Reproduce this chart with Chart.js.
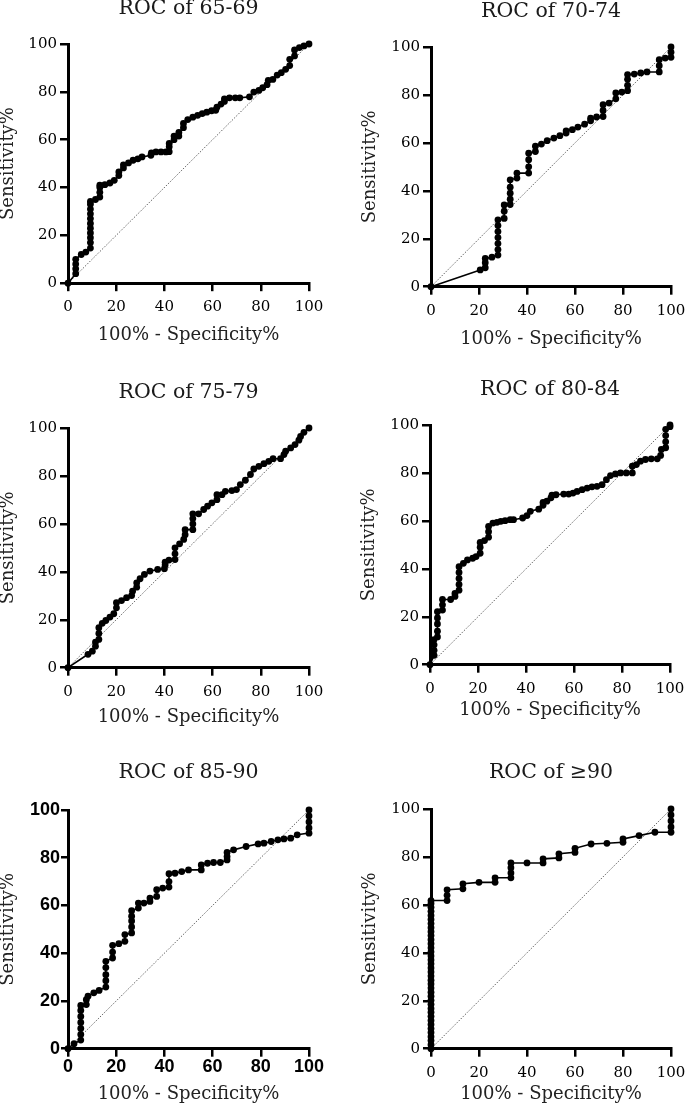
<!DOCTYPE html>
<html lang="en">
<head>
<meta charset="UTF-8">
<title>ROC curves by age group</title>
<script src="https://cdn.jsdelivr.net/npm/chart.js"></script>
<style>
  body { margin: 0; background: #fff; }
  #page { position: relative; width: 685px; height: 1110px; overflow: hidden; background: #fff; }
  #page canvas { position: absolute; }
</style>
</head>
<body>
<div id="page"></div>
<script>
// tick values shared by both axes of every panel
const axisTicks = [0, 20, 40, 60, 80, 100];

// chance line
const diagFpr = [0, 100];
const diagTpr = [0, 100];

// 65-69
const fpr6569 = [0, 3.2, 3.2, 3.2, 3.2, 5.5, 7.4, 9.3, 9.3, 9.3, 9.3, 9.3, 9.3, 9.3, 9.3, 9.3, 9.3, 9.3, 11.4, 13.2, 13.2, 13.2, 13.2, 15.3, 17.4, 19.2, 21.1, 21.1, 23, 23, 25.1, 27, 29, 30.7, 34.4, 34.6, 36.5, 38.6, 40.6, 42, 42, 42, 44, 44, 46, 46, 47.9, 47.9, 49.7, 51.8, 53.8, 55.7, 57.6, 59.6, 61.3, 61.8, 63.5, 64.9, 64.9, 67, 69.4, 71.3, 75.3, 77.1, 79.2, 80.8, 82.6, 83.1, 85, 86.8, 88.5, 90.3, 92, 92, 94, 94, 96, 97.9, 100];
const tpr6569 = [0, 4, 6, 8, 10, 12, 13, 14.7, 17, 19, 21, 23, 25, 27, 29, 31, 33, 34.2, 35, 36, 38, 40, 41, 41.2, 41.9, 43, 45, 46.5, 48.2, 49.5, 50.3, 51.4, 52, 52.8, 53.5, 54.5, 54.9, 54.9, 54.9, 55, 57, 58.4, 60, 61.5, 61.5, 63, 65, 66.8, 68.4, 69.4, 70.2, 70.9, 71.5, 72.1, 72.3, 73.6, 74.9, 76, 77.1, 77.5, 77.5, 77.5, 77.9, 79.9, 80.6, 81.7, 83, 84.8, 85.2, 87, 88, 89.4, 91, 93.6, 95, 97.5, 98.5, 99.2, 100];

// 70-74
const fpr7074 = [0, 20.5, 22.6, 22.6, 22.6, 25.4, 27.9, 27.9, 27.9, 27.9, 27.9, 27.9, 27.9, 30.5, 30.5, 30.5, 33, 33, 33, 33, 33, 35.8, 35.8, 40.7, 40.7, 40.7, 40.7, 43.5, 43.5, 46, 48.4, 51.2, 53.7, 56.3, 56.3, 58.9, 61.2, 64, 66.5, 66.5, 69, 71.7, 71.7, 71.7, 74.2, 77, 77, 79.5, 81.9, 81.9, 81.9, 81.9, 84.7, 87.4, 90, 95.1, 95.1, 95.1, 97.6, 100, 100, 100];
const tpr7074 = [0, 7, 7.9, 10, 11.8, 12.3, 13.2, 15.5, 18, 20.5, 23, 25.5, 27.9, 28.5, 31.5, 34.1, 34.3, 36.5, 39, 41.5, 44.6, 45.3, 47.4, 47.4, 50, 53, 55.7, 56.4, 58.6, 59.5, 60.9, 62, 63, 64.1, 65, 65.5, 66.6, 67.8, 69.2, 70.3, 70.8, 71, 73.5, 75.9, 76.6, 78.4, 80.8, 81.2, 81.8, 84, 86.5, 88.5, 88.7, 89.2, 89.6, 89.6, 92.2, 94.7, 95.4, 95.7, 97.8, 100];

// 75-79
const fpr7579 = [0, 8.3, 10.1, 11.4, 11.4, 12.8, 12.8, 12.8, 14.2, 15.7, 17.4, 19, 20.1, 20.1, 22.2, 24.3, 26.4, 26.8, 28.5, 28.5, 29.9, 31.7, 34, 37.2, 40, 40.3, 40.3, 41.9, 44.4, 44.4, 44.4, 46.3, 48, 48.6, 48.6, 51.8, 51.8, 51.8, 51.8, 54.2, 56.3, 57.9, 59.7, 61.8, 61.8, 63.9, 65.3, 68, 69.9, 71.5, 73.6, 75.7, 77.1, 79.2, 81.3, 83.3, 85.1, 88.2, 89.6, 90.3, 92.4, 94.2, 95.8, 96.5, 97.9, 100];
const tpr7579 = [0, 5.6, 6.9, 9, 10.7, 11.8, 14.3, 16.7, 18.5, 19.7, 21.1, 22.5, 25, 27.1, 28, 29.2, 30.1, 31.9, 33.6, 35.4, 37.1, 38.9, 40.3, 41, 41.3, 42.8, 44, 44.9, 45.1, 47.5, 50, 51.7, 53.5, 55.5, 57.6, 57.6, 60, 62.2, 64.2, 64.2, 66, 67.4, 68.8, 70.1, 72.2, 72.2, 73.6, 73.9, 74.3, 76.4, 78.2, 80.6, 82.9, 84, 85.1, 86.1, 87.2, 87.2, 88.9, 90.3, 91.7, 93.1, 94.9, 96.5, 98.2, 100];

// 80-84
const fpr8084 = [0, 1.7, 1.7, 1.7, 1.7, 3.1, 3.1, 3.1, 3.1, 3.1, 5.2, 5.2, 5.2, 8.6, 10.4, 10.4, 12.1, 12.1, 12.1, 12.1, 12.1, 13.9, 15.6, 17.8, 19.2, 20.9, 20.9, 20.9, 22.7, 24.4, 24.4, 24.4, 26.2, 27.9, 29.5, 31.3, 33.4, 34.8, 38.6, 40.4, 41.8, 45.3, 47.1, 47.1, 48.7, 50.4, 50.8, 52.5, 55.7, 57.8, 59.6, 61.3, 63.4, 65.5, 67.5, 69.6, 71.7, 73.5, 75.2, 77.3, 79.4, 81.8, 84.3, 84.3, 86, 87.7, 89.8, 92.2, 94.7, 96.1, 96.4, 98.2, 98.2, 98.2, 98.2, 100, 100];
const tpr8084 = [0, 3.9, 6, 8.3, 10.5, 11.6, 14, 17, 19.5, 22.1, 22.8, 25, 27.2, 27.2, 28.5, 29.7, 31.1, 33.5, 36, 38.5, 40.9, 42.3, 43.7, 44.4, 45.1, 46.5, 49, 51, 51.8, 53.2, 55.5, 57.7, 59.1, 59.4, 59.8, 60.1, 60.5, 60.5, 61.2, 62.2, 64, 64.9, 66.5, 67.7, 68.2, 69.6, 70.7, 70.9, 71.2, 71.2, 71.6, 72.3, 73, 73.7, 74.2, 74.4, 75.1, 77.2, 78.9, 79.6, 80, 80, 80, 82.8, 83.5, 84.9, 85.6, 85.9, 85.9, 87.3, 89.8, 90.5, 93, 95.6, 98.2, 99.3, 100];

// 85-90
const fpr8590 = [0, 2.5, 5.3, 5.3, 5.3, 5.3, 5.3, 5.3, 5.3, 7.6, 7.6, 8.3, 10.7, 12.9, 15.7, 15.7, 15.7, 15.7, 15.7, 18.5, 18.5, 18.5, 21.1, 23.6, 23.6, 26.4, 26.4, 26.4, 26.4, 26.4, 29.2, 29.2, 31.5, 34, 34, 36.8, 36.8, 39.3, 41.9, 41.9, 41.9, 44.4, 47.2, 50, 55.3, 55.3, 57.9, 60.4, 63.2, 66, 66, 66, 68.7, 73.9, 78.9, 81.3, 84.3, 87.1, 89.6, 92.4, 95.1, 100, 100, 100, 100, 100];
const tpr8590 = [0, 2.1, 3.6, 6, 8.5, 11, 13.5, 16, 18.1, 18.5, 20.5, 22, 23.4, 24.4, 25.8, 28.5, 31, 34, 36.6, 38, 40.5, 43.3, 44, 45, 47.8, 48.5, 51, 53.5, 55.5, 57.8, 58.9, 61, 61, 61.7, 63.1, 63.8, 66.6, 67.3, 67.7, 70, 73.3, 73.5, 74.2, 74.9, 74.9, 77, 77.7, 78, 78, 79.1, 80.5, 82.2, 83.3, 84.7, 85.8, 86.1, 86.8, 87.5, 87.9, 88.2, 89.6, 90.3, 92.5, 95, 97.5, 100];

// >=90
const fpr90 = [0, 0, 0, 0, 0, 0, 0, 0, 0, 0, 0, 0, 0, 0, 0, 0, 0, 0, 0, 0, 0, 0, 0, 0, 0, 0, 0, 0, 0, 0, 0, 0, 0, 0, 0, 0, 0, 0, 6.7, 6.7, 6.7, 13.3, 13.3, 20, 26.7, 26.7, 33.3, 33.3, 33.3, 33.3, 40, 46.7, 46.7, 53.3, 53.3, 60, 60, 66.7, 73.3, 80, 80, 86.7, 93.3, 100, 100, 100, 100, 100];
const tpr90 = [0, 1.7, 3.4, 5, 6.8, 8.4, 10.1, 11.8, 13.5, 15.2, 16.8, 18.5, 20.2, 21.9, 23.6, 25.3, 27, 28.6, 30.3, 32, 33.7, 35.4, 37, 38.7, 40.4, 42.1, 43.8, 45.5, 47.2, 48.8, 50.5, 52.2, 53.9, 55.6, 57.3, 59, 60.6, 61.8, 61.8, 64, 66.3, 66.7, 68.8, 69.4, 69.4, 71.3, 71.3, 73.3, 75.5, 77.5, 77.5, 77.5, 79.2, 79.6, 81.3, 81.9, 83.6, 85.4, 85.7, 86.1, 87.5, 88.9, 90.3, 90.3, 92.5, 95, 97.5, 100];

const SERIF = "'DejaVu Serif', 'Liberation Serif', serif";
const SANS = "'Liberation Sans', Arial, sans-serif";

// plot-area box [left, top, right, bottom] and where the titles sit, in page pixels
const panels = [
  { title: 'ROC of 65-69', fpr: fpr6569, tpr: tpr6569, area: [68, 44, 309, 284], titleY: 9, yTitleX: 8, xTitleY: 336, bold: false },
  { title: 'ROC of 70-74', fpr: fpr7074, tpr: tpr7074, area: [431, 47, 671, 287], titleY: 11.5, yTitleX: 370, xTitleY: 339.5, bold: false },
  { title: 'ROC of 75-79', fpr: fpr7579, tpr: tpr7579, area: [68, 428, 309, 668], titleY: 392.5, yTitleX: 8, xTitleY: 717.5, bold: false },
  { title: 'ROC of 80-84', fpr: fpr8084, tpr: tpr8084, area: [430, 425, 670, 665], titleY: 390, yTitleX: 369.5, xTitleY: 710.5, bold: false },
  { title: 'ROC of 85-90', fpr: fpr8590, tpr: tpr8590, area: [68, 810, 309, 1049], titleY: 773, yTitleX: 8, xTitleY: 1094.5, bold: true },
  { title: 'ROC of \u226590', fpr: fpr90, tpr: tpr90, area: [431, 809, 671, 1049], titleY: 773, yTitleX: 370, xTitleY: 1094.5, bold: false }
];

Chart.defaults.font.family = SERIF;
Chart.defaults.color = '#111';

const page = document.getElementById('page');
const AXIS_SIZE = 18;
const AXIS_LH = AXIS_SIZE * 1.2;

panels.forEach(p => {
  const [al, at, ar, ab] = p.area;
  const L = al - 70, T = at - 50;
  const xH = (p.xTitleY - ab) + AXIS_LH / 2;
  const W = 70 + (ar - al) + 30;
  const H = 50 + (ab - at) + xH + 4;
  const tTop = p.titleY - T - 12;

  const canvas = document.createElement('canvas');
  canvas.width = W;
  canvas.height = H;
  canvas.style.left = L + 'px';
  canvas.style.top = T + 'px';
  page.appendChild(canvas);

  const tickFont = p.bold
    ? { family: SANS, weight: 'bold', size: 18 }
    : { family: SERIF, size: 15 };

  new Chart(canvas, {
    type: 'scatter',
    data: {
      datasets: [
        {
          data: p.fpr.map((x, i) => ({ x: x, y: p.tpr[i] })),
          showLine: true,
          borderColor: '#000',
          borderWidth: 1.6,
          pointRadius: 3.4,
          pointBackgroundColor: '#000',
          pointBorderWidth: 0,
          clip: false
        },
        {
          data: diagFpr.map((x, i) => ({ x: x, y: diagTpr[i] })),
          showLine: true,
          borderColor: '#666',
          borderWidth: 1,
          borderDash: [1.5, 1.5],
          pointRadius: 0,
          clip: false
        }
      ]
    },
    options: {
      responsive: false,
      animation: false,
      devicePixelRatio: 1,
      layout: { padding: { left: 0, top: 0, right: 30, bottom: 4 } },
      plugins: {
        legend: { display: false },
        tooltip: { enabled: false },
        title: {
          display: true,
          text: p.title,
          fullSize: false,
          color: '#1a1a1a',
          font: { family: SERIF, size: 20.5, weight: 'normal', lineHeight: 24 / 20.5 },
          padding: { top: tTop, bottom: 26 - tTop }
        }
      },
      scales: {
        x: {
          type: 'linear',
          min: 0,
          max: 100,
          afterBuildTicks: s => { s.ticks = axisTicks.map(v => ({ value: v })); },
          afterFit: s => { s.height = xH; },
          ticks: { font: tickFont, color: '#000', padding: p.bold ? 0 : 7, maxRotation: 0 },
          grid: { drawOnChartArea: false, drawTicks: true, tickLength: 8, color: '#000', lineWidth: 2.5 },
          border: { display: true, color: '#000', width: 3 },
          title: {
            display: true,
            text: '100% - Specificity%',
            color: '#222',
            font: { family: SERIF, size: AXIS_SIZE, lineHeight: 1.2 },
            padding: { top: 0, bottom: 0 }
          }
        },
        y: {
          type: 'linear',
          min: 0,
          max: 100,
          afterBuildTicks: s => { s.ticks = axisTicks.map(v => ({ value: v })); },
          afterFit: s => { s.width = 70; },
          ticks: { font: tickFont, color: '#000', padding: p.bold ? 1 : 3 },
          grid: { drawOnChartArea: false, drawTicks: true, tickLength: p.bold ? 7 : 8, color: '#000', lineWidth: 2.5 },
          border: { display: true, color: '#000', width: 3 },
          title: {
            display: true,
            text: 'Sensitivity%',
            color: '#222',
            font: { family: SERIF, size: AXIS_SIZE, lineHeight: 1.2 },
            padding: { top: p.yTitleX - L - AXIS_LH / 2, bottom: 0 }
          }
        }
      }
    }
  });
});
</script>
</body>
</html>
